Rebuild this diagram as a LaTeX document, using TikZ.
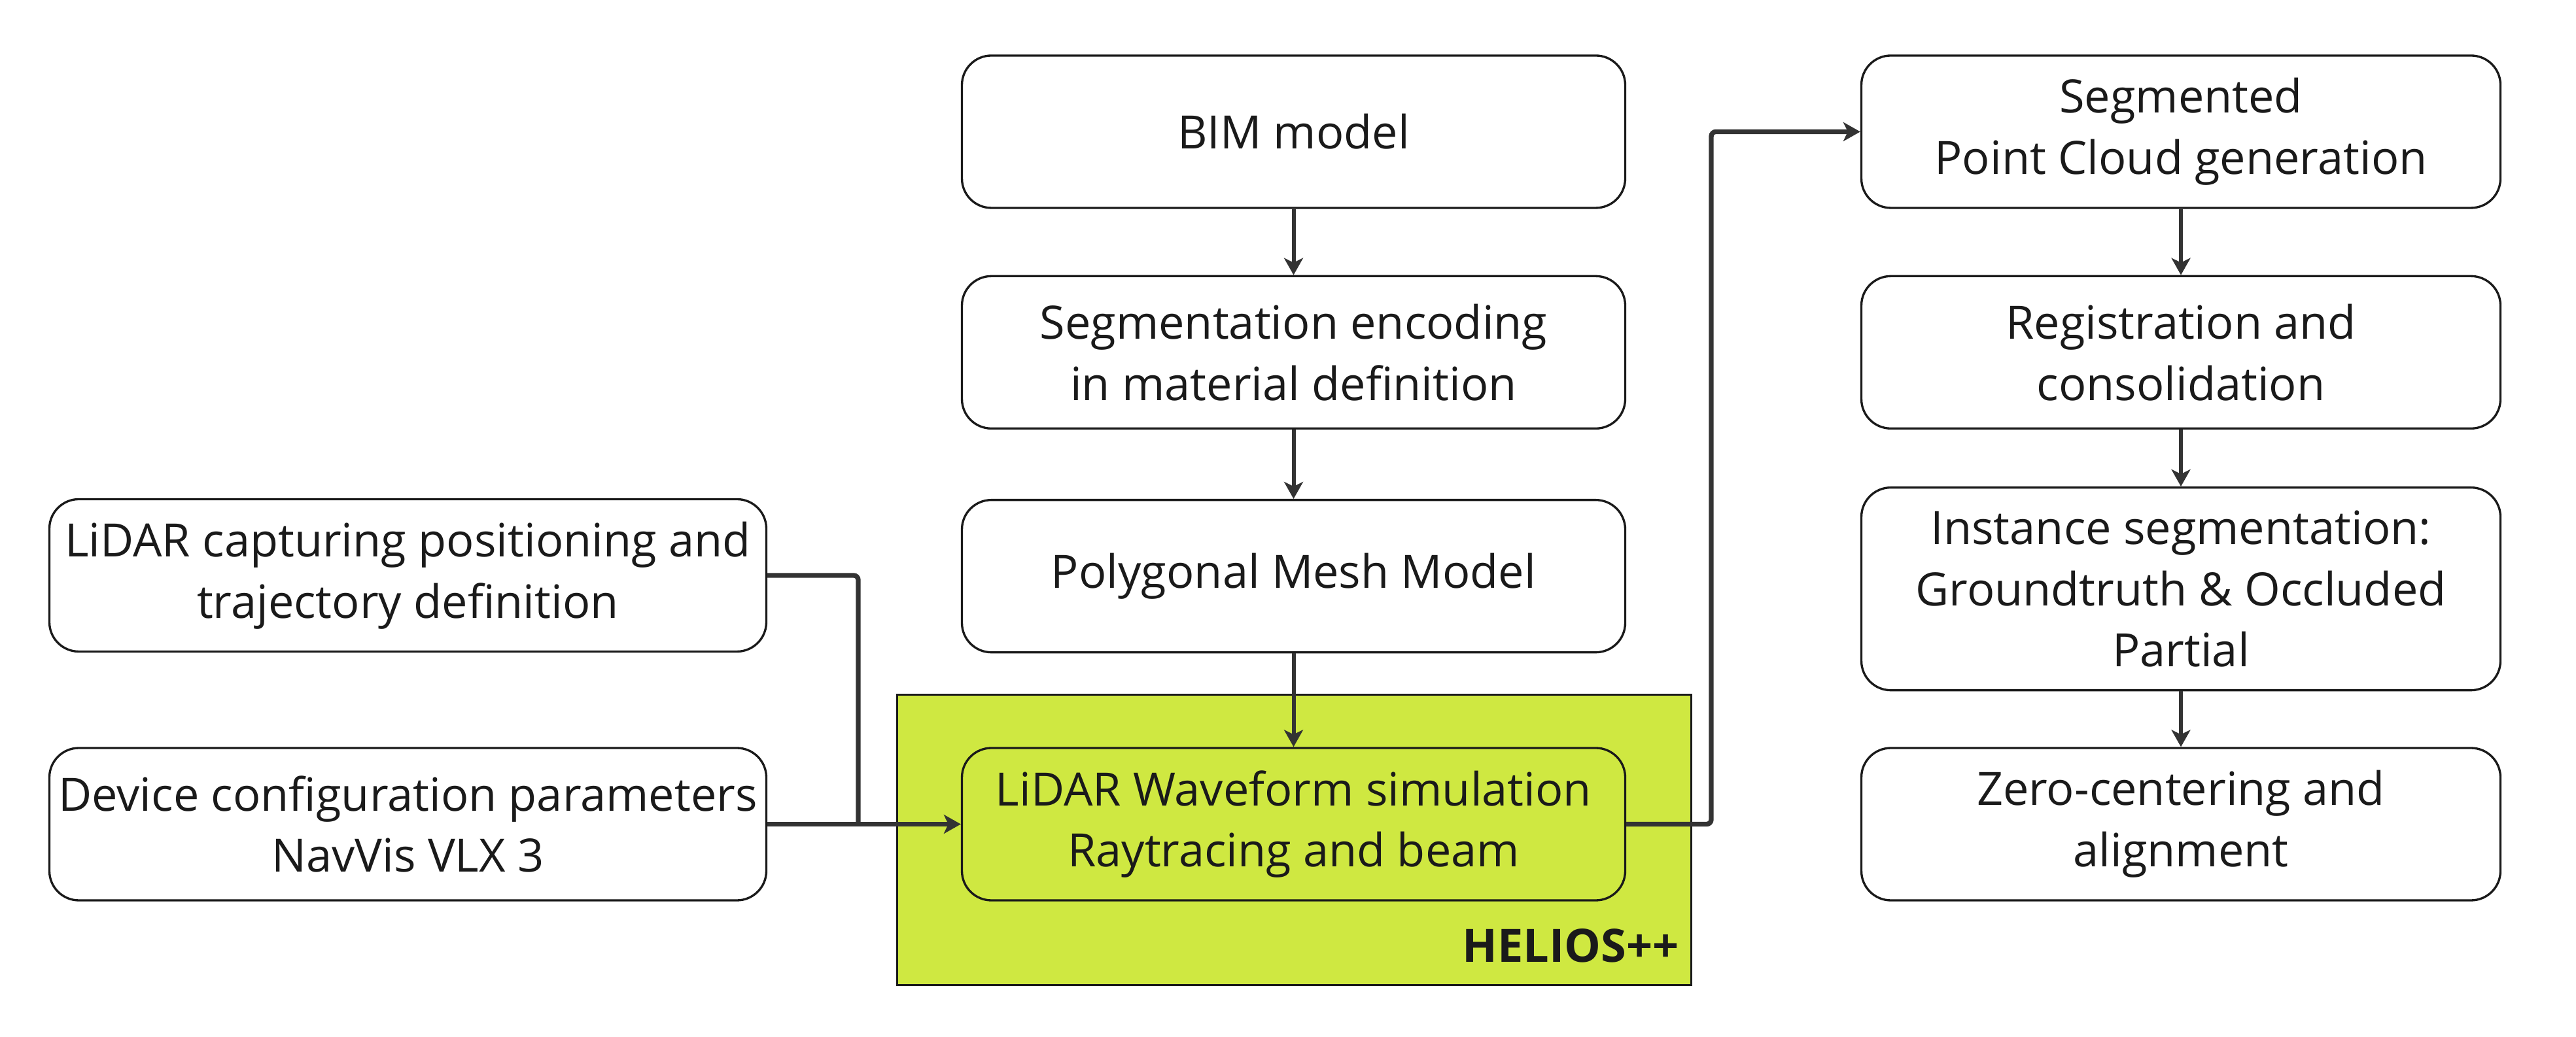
\documentclass[tikz,border=0pt]{standalone}
\usepackage{fontspec}
\setmainfont{Open Sans}
\usetikzlibrary{positioning,arrows.meta}
\definecolor{heliosgreen}{RGB}{207,232,65}
\definecolor{linegray}{RGB}{51,51,51}
\definecolor{inkblack}{RGB}{26,26,26}

\begin{document}
\begin{tikzpicture}[node distance=1.01cm, auto,
		font=\fontsize{20}{26.7}\selectfont, text=inkblack,
		>={Stealth[length=0.26cm,width=0.29cm,inset=0.07cm]},
		block/.style={draw=inkblack, line width=0.95pt, rounded corners=0.45cm, fill=white,
			align=center, inner sep=0pt, minimum height=2.33cm},
		midblock/.style={block, minimum width=10.14cm},
		leftblock/.style={block, minimum width=10.96cm},
		rightblock/.style={block, minimum width=9.77cm},
		link/.style={draw=linegray, line width=1.7pt},
		thicklink/.style={draw=linegray, line width=2.1pt, rounded corners=2pt}]
		\useasboundingbox[fill=white] (0,0) rectangle (39.38,15.86);
		% HELIOS++ frame
		\node (helios) [draw=inkblack, line width=0.95pt, fill=heliosgreen, minimum width=12.14cm, minimum height=4.44cm, inner sep=0pt] at (19.785,3.015) {};
		\node (helioslbl) [anchor=base east, font=\fontsize{20}{24}\selectfont\bfseries] at (25.79,1.14) {HELIOS++};
		% middle column
		\node (BIM) [midblock] at (19.775,13.845) {BIM model};
		\node (Seg) [midblock, below=of BIM] {Segmentation encoding\\in material definition};
		\node (Poly) [midblock, below=1.06cm of Seg] {Polygonal Mesh Model};
		\node (Wave) [midblock, fill=heliosgreen, below=1.43cm of Poly] {LiDAR Waveform simulation\\Raytracing and beam};
		% left column
		\node (Cap) [leftblock] at (6.235,7.06) {LiDAR capturing positioning and\\trajectory definition};
		\node (Dev) [leftblock] at (Cap |- Wave) {Device configuration parameters\\NavVis VLX 3};
		% right column
		\node (PC) [rightblock] at (33.34,13.845) {Segmented\\Point Cloud generation};
		\node (Reg) [rightblock, below=of PC] {Registration and\\consolidation};
		\node (Inst) [rightblock, minimum height=3.10cm, below=0.87cm of Reg] {Instance segmentation:\\Groundtruth \& Occluded\\Partial};
		\node (Zero) [rightblock, below=0.85cm of Inst] {Zero-centering and\\alignment};
		\coordinate (jn) at (13.12,0 |- Wave.west);
		\coordinate (rt) at (26.16,0 |- Wave.east);
		\draw[->, link] (BIM) to (Seg);
		\draw[->, link] (Seg) to (Poly);
		\draw[->, link] (Poly) to (Wave);
		\draw[thicklink] (Cap.east) -| (jn);
		\draw[->, thicklink] (Dev.east) to (Wave.west);
		\draw[->, thicklink] (Wave.east) -- (rt) |- (PC.west);
		\draw[->, link] (PC) to (Reg);
		\draw[->, link] (Reg) to (Inst);
		\draw[->, link] (Inst) to (Zero);
		\end{tikzpicture}
\end{document}
